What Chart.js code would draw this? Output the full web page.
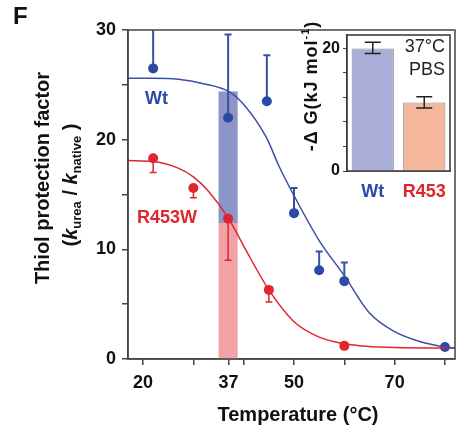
<!DOCTYPE html>
<html>
<head>
<meta charset="utf-8">
<script src="https://cdn.jsdelivr.net/npm/chart.js@4"></script>
<style>
  html, body { margin: 0; padding: 0; background: #fff; }
  #wrap { position: relative; width: 461px; height: 431px; }
  #main { position: absolute; left: 0; top: 0; }
  #inset { position: absolute; left: 290px; top: 0; }
</style>
</head>
<body>
<div id="wrap">
  <canvas id="main" width="461" height="431"></canvas>
  <canvas id="inset" width="171" height="200"></canvas>
</div>
<script>
// --- data ---
const wtTemp = [22, 36.9, 44.6, 50, 55, 60, 80];
const wtFactor = [26.5, 22.0, 23.5, 13.3, 8.1, 7.1, 1.1];
const wtErrHigh = [31.5, 29.6, 27.7, 15.6, 9.8, 8.8, null];

const mutTemp = [22, 30, 36.9, 45, 60];
const mutFactor = [18.3, 15.6, 12.8, 6.3, 1.2];
const mutErrLow = [17.0, 14.7, 9.0, 5.2, null];

// fitted curves
const fitTempWt = [17, 22, 27, 32, 37, 40, 44.5, 47, 50, 55, 60, 65, 70, 75, 80, 82];
const fitWt = [25.6, 25.6, 25.5, 25.1, 24.4, 23.2, 20.2, 17.6, 14.9, 10.8, 7.6, 4.2, 2.5, 1.6, 1.1, 1.0];
const fitTempMut = [17, 22, 27, 30, 33, 37, 40, 45, 50, 55, 60, 70, 82];
const fitMut = [18.1, 18.0, 17.4, 16.6, 15.3, 12.8, 10.3, 6.3, 3.4, 2.0, 1.4, 1.05, 1.0];

// 37 °C band
const bandTemp = [35, 38.8];
const bandWt = 24.4;
const bandMut = 12.4;

const xTicks = [20, 30, 37, 40, 50, 60, 70, 80];
const xLabels = [20, 37, 50, 70];

// inset bars
const insetLabels = ['Wt', 'R453'];
const insetDG = [20.0, 11.2];
const insetErr = [[19.2, 21.0], [10.3, 12.1]];

const FONT = '"Liberation Sans", Arial, sans-serif';
const BLUE = '#2c49a6';
const BLUE_LINE = '#3a50a2';
const RED = '#e1252d';

function pts(xs, ys) { return xs.map((v, i) => ({ x: v, y: ys[i] })); }

// draw text made of several runs (for italics / sub / superscripts)
function drawRuns(ctx, runs, cx, cy) {
    ctx.textAlign = 'left';
    let w = 0;
    runs.forEach(r => { ctx.font = r.font; w += ctx.measureText(r.t).width; });
    let x = cx - w / 2;
    runs.forEach(r => {
        ctx.font = r.font;
        ctx.fillText(r.t, x, cy + (r.dy || 0));
        x += ctx.measureText(r.t).width;
    });
}

const mainDecor = {
    id: 'mainDecor',
    beforeDatasetsDraw(chart) {
        const { ctx, chartArea: a, scales: { x, y } } = chart;
        ctx.save();
        const x0 = x.getPixelForValue(bandTemp[0]);
        const x1 = x.getPixelForValue(bandTemp[1]);
        const yW = y.getPixelForValue(bandWt), yM = y.getPixelForValue(bandMut), y0 = y.getPixelForValue(0);
        ctx.fillStyle = '#8d94c7';
        ctx.fillRect(x0, yW, x1 - x0, yM - yW);
        ctx.fillStyle = '#f1a3a8';
        ctx.fillRect(x0, yM, x1 - x0, y0 - yM);

        // error bars
        ctx.beginPath();
        ctx.rect(a.left, a.top, a.width, a.height);
        ctx.clip();
        const bar = (t, v, e, color, lw) => {
            if (e == null) return;
            const px = x.getPixelForValue(t), py = y.getPixelForValue(v), pe = y.getPixelForValue(e);
            ctx.strokeStyle = color;
            ctx.lineWidth = lw;
            ctx.beginPath();
            ctx.moveTo(px, py); ctx.lineTo(px, pe);
            ctx.moveTo(px - 3.5, pe); ctx.lineTo(px + 3.5, pe);
            ctx.stroke();
        };
        wtTemp.forEach((t, i) => bar(t, wtFactor[i], wtErrHigh[i], BLUE_LINE, 2));
        mutTemp.forEach((t, i) => bar(t, mutFactor[i], mutErrLow[i], RED, 1.5));
        ctx.restore();
    },
    afterDraw(chart) {
        const { ctx, chartArea: a } = chart;
        ctx.save();
        ctx.strokeStyle = '#444';
        ctx.lineWidth = 1.5;
        ctx.strokeRect(a.left, a.top, a.width, a.height);

        ctx.fillStyle = '#111';
        ctx.textBaseline = 'middle';
        ctx.textAlign = 'left';
        ctx.font = 'bold 24px ' + FONT;
        ctx.fillText('F', 13, 17);

        // x title
        ctx.textAlign = 'center';
        ctx.font = 'bold 20px ' + FONT;
        ctx.fillText('Temperature (\u00B0C)', 298, 415);

        // y title, two lines
        ctx.save();
        ctx.translate(43, 178);
        ctx.rotate(-Math.PI / 2);
        ctx.font = 'bold 20px ' + FONT;
        ctx.fillText('Thiol protection factor', 0, 0);
        ctx.restore();

        ctx.save();
        ctx.translate(71, 185);
        ctx.rotate(-Math.PI / 2);
        const b = 'bold 20px ' + FONT, bi = 'italic bold 20px ' + FONT, s = 'bold 13px ' + FONT;
        drawRuns(ctx, [
            { t: '(', font: b }, { t: 'k', font: bi }, { t: 'urea', font: s, dy: 6 },
            { t: ' / ', font: b }, { t: 'k', font: bi }, { t: 'native', font: s, dy: 6 },
            { t: ' )', font: b }
        ], 0, 0);
        ctx.restore();

        // series labels
        ctx.textAlign = 'left';
        ctx.font = 'bold 18px ' + FONT;
        ctx.fillStyle = BLUE;
        ctx.fillText('Wt', 145, 99);
        ctx.fillStyle = RED;
        ctx.fillText('R453W', 137, 218);
        ctx.restore();
    }
};

new Chart(document.getElementById('main'), {
    type: 'scatter',
    data: {
        datasets: [
            { data: pts(fitTempWt, fitWt), showLine: true, borderColor: BLUE_LINE, borderWidth: 1.5,
              pointRadius: 0, cubicInterpolationMode: 'monotone' },
            { data: pts(fitTempMut, fitMut), showLine: true, borderColor: RED, borderWidth: 1.5,
              pointRadius: 0, cubicInterpolationMode: 'monotone' },
            { data: pts(wtTemp, wtFactor), pointRadius: 5, backgroundColor: BLUE, borderColor: BLUE, borderWidth: 0 },
            { data: pts(mutTemp, mutFactor), pointRadius: 5, backgroundColor: RED, borderColor: RED, borderWidth: 0 }
        ]
    },
    options: {
        responsive: false,
        devicePixelRatio: 1,
        animation: false,
        clip: false,
        layout: { autoPadding: false, padding: { top: 30, right: 6, left: 0, bottom: 0 } },
        plugins: { legend: { display: false }, tooltip: { enabled: false } },
        scales: {
            x: {
                type: 'linear', min: 17, max: 82,
                afterBuildTicks: s => { s.ticks = xTicks.map(v => ({ value: v })); },
                afterFit: s => { s.height = 72; },
                ticks: {
                    autoSkip: false, maxRotation: 0, padding: 7, color: '#111',
                    font: { family: FONT, size: 18, weight: 'bold' },
                    callback: v => xLabels.includes(v) ? v : ''
                },
                grid: { drawOnChartArea: false, tickLength: 6, color: '#444', lineWidth: 1.5 },
                border: { color: '#444', width: 1.5 }
            },
            y: {
                min: 0, max: 30,
                afterFit: s => { s.width = 128; },
                ticks: {
                    stepSize: 5, padding: 6, color: '#111',
                    font: { family: FONT, size: 18, weight: 'bold' },
                    callback: v => v % 10 === 0 ? v : ''
                },
                grid: { drawOnChartArea: false, tickLength: 6, color: '#444', lineWidth: 1.5 },
                border: { color: '#444', width: 1.5 }
            }
        }
    },
    plugins: [mainDecor]
});

// --- inset ---
const insetDecor = {
    id: 'insetDecor',
    beforeDatasetsDraw(chart) {
        const { ctx, chartArea: a } = chart;
        ctx.save();
        ctx.fillStyle = '#fff';
        ctx.fillRect(a.left, a.top, a.width, a.height);
        ctx.restore();
    },
    afterDatasetsDraw(chart) {
        const { ctx, scales: { x, y } } = chart;
        ctx.save();
        ctx.strokeStyle = '#222';
        ctx.lineWidth = 1.5;
        insetErr.forEach((e, i) => {
            const px = x.getPixelForValue(i);
            const lo = y.getPixelForValue(e[0]), hi = y.getPixelForValue(e[1]);
            ctx.beginPath();
            ctx.moveTo(px, lo); ctx.lineTo(px, hi);
            ctx.moveTo(px - 8, lo); ctx.lineTo(px + 8, lo);
            ctx.moveTo(px - 8, hi); ctx.lineTo(px + 8, hi);
            ctx.stroke();
        });
        ctx.restore();
    },
    afterDraw(chart) {
        const { ctx, chartArea: a } = chart;
        ctx.save();
        ctx.strokeStyle = '#333';
        ctx.lineWidth = 1.5;
        ctx.strokeRect(a.left, a.top, a.width, a.height);

        ctx.fillStyle = '#222';
        ctx.textAlign = 'right';
        ctx.textBaseline = 'middle';
        ctx.font = '18px ' + FONT;
        ctx.fillText('37\u00B0C', 155, 47);
        ctx.fillText('PBS', 155, 70);

        ctx.save();
        ctx.translate(22, 86);
        ctx.rotate(-Math.PI / 2);
        ctx.fillStyle = '#111';
        ctx.letterSpacing = '1px';
        const b = 'bold 18px ' + FONT, s = 'bold 11px ' + FONT;
        drawRuns(ctx, [
            { t: '-\u0394 G(kJ mol', font: b }, { t: '-1', font: s, dy: -6 }, { t: ')', font: b }
        ], 0, 0);
        ctx.restore();
        ctx.restore();
    }
};

new Chart(document.getElementById('inset'), {
    type: 'bar',
    data: {
        labels: insetLabels,
        datasets: [{
            data: insetDG,
            backgroundColor: ['#a9afd8', '#f4b69d'],
            borderColor: '#8a8a8a',
            borderWidth: 1,
            categoryPercentage: 1,
            barPercentage: 0.82
        }]
    },
    options: {
        responsive: false,
        devicePixelRatio: 1,
        animation: false,
        layout: { autoPadding: false, padding: { top: 35, right: 11, left: 0, bottom: 0 } },
        plugins: { legend: { display: false }, tooltip: { enabled: false } },
        scales: {
            x: {
                afterFit: s => { s.height = 29; },
                ticks: {
                    padding: 2,
                    color: c => c.index === 0 ? BLUE : RED,
                    font: { family: FONT, size: 18, weight: 'bold' }
                },
                grid: { display: false },
                border: { color: '#333', width: 1.5 }
            },
            y: {
                min: 0, max: 22.2,
                afterFit: s => { s.width = 57; },
                afterBuildTicks: s => { s.ticks = s.ticks.filter(t => t.value % 2 === 0); },
                ticks: {
                    stepSize: 2, padding: 3, color: '#111',
                    font: { family: FONT, size: 16, weight: 'bold' },
                    callback: v => v % 10 === 0 ? v : ''
                },
                grid: { drawOnChartArea: false, tickLength: 4, color: '#444', lineWidth: 1 },
                border: { color: '#333', width: 1.5 }
            }
        }
    },
    plugins: [insetDecor]
});
</script>
</body>
</html>
